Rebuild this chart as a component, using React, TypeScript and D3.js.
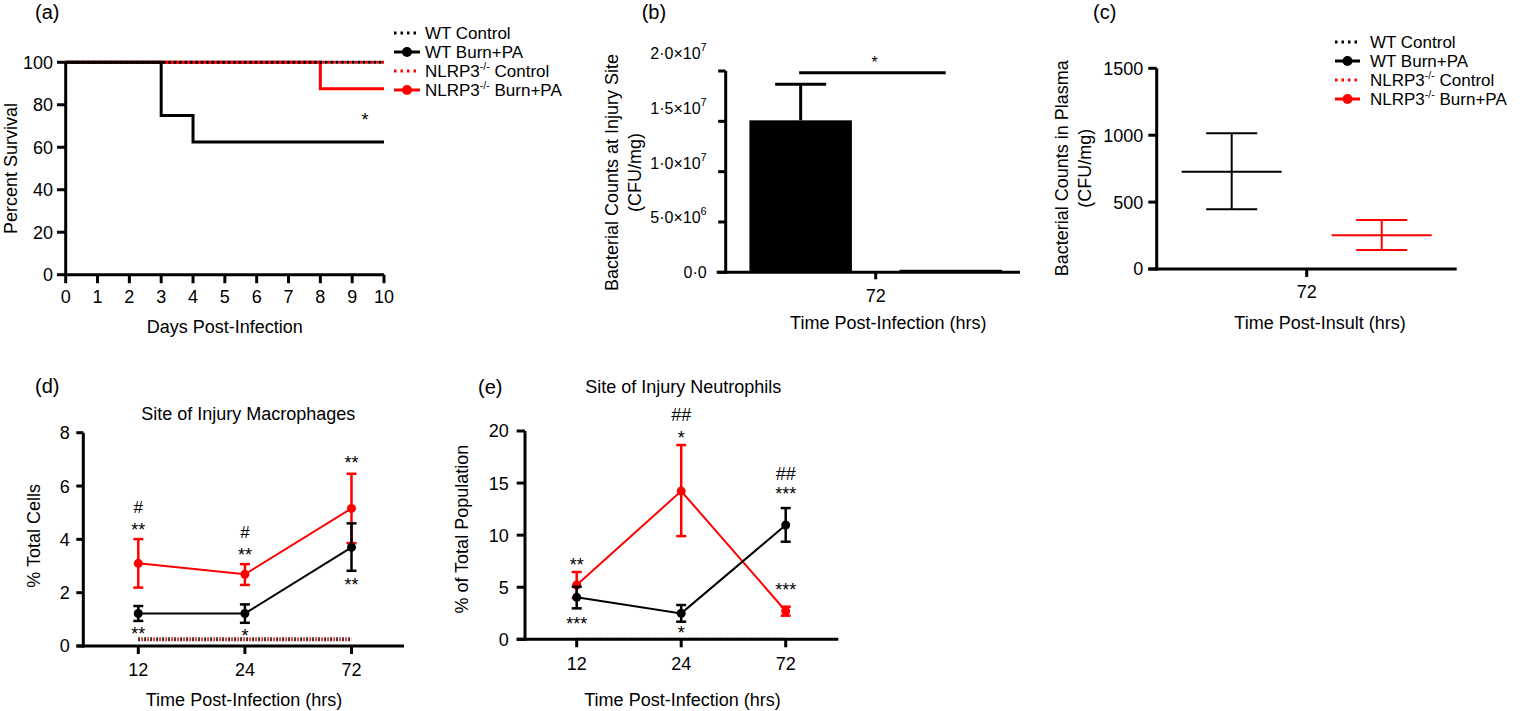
import React from "react";
import * as d3 from "d3";

const FONT = '"Liberation Sans", Arial, Helvetica, sans-serif';
const BLACK = "#000000";
const RED = "#ff0000";

// ---------------- (a) survival ----------------
const survivalDayTicks = [0, 1, 2, 3, 4, 5, 6, 7, 8, 9, 10];
const survivalTicks = [0, 20, 40, 60, 80, 100];
const survWTControl = [{ day: 0, pct: 100 }, { day: 10, pct: 100 }];
const survWTBurn = [{ day: 0, pct: 100 }, { day: 3, pct: 75 }, { day: 4, pct: 62.5 }, { day: 10, pct: 62.5 }];
const survKOControl = [{ day: 0, pct: 100 }, { day: 10, pct: 100 }];
const survKOBurn = [{ day: 0, pct: 100 }, { day: 8, pct: 87.5 }, { day: 10, pct: 87.5 }];
const survStarDay = 9.4;
const survStarPct = 62.5 + 12.3;

const legendLabels = ["WT Control", "WT Burn+PA", "NLRP3-/- Control", "NLRP3-/- Burn+PA"];

// ---------------- (b) injury-site bacterial counts ----------------
const injuryGroups = ["WT Burn+PA", "NLRP3-/- Burn+PA"];
const injuryMeans = [1.51e7, 2.5e5];
const injuryUpper = [1.868e7, 2.5e5];
const injuryTicks = [0, 5e6, 1e7, 1.5e7, 2e7];
const injuryTimeLabel = "72";

// ---------------- (c) plasma bacterial counts ----------------
const plasmaGroups = ["WT Burn+PA", "NLRP3-/- Burn+PA"];
const plasmaMeans = [727, 252];
const plasmaUpper = [1014, 366];
const plasmaLower = [446, 142];
const plasmaTicks = [0, 500, 1000, 1500];
const plasmaTimeLabel = "72";

// ---------------- (d) macrophages ----------------
const timepoints = ["12", "24", "72"];
const macTicks = [0, 2, 4, 6, 8];
const macWT = [1.22, 1.22, 3.7];
const macWTHi = [1.5, 1.56, 4.6];
const macWTLo = [0.94, 0.87, 2.82];
const macKO = [3.1, 2.69, 5.16];
const macKOHi = [4.01, 3.07, 6.46];
const macKOLo = [2.19, 2.29, 3.86];
const macControl = [0.25, 0.25, 0.25];
const macAnnotTime = ["12", "12", "12", "24", "24", "24", "72", "72"];
const macAnnotY = [5.22, 4.51, 0.63, 4.26, 3.56, 0.54, 7.04, 2.44];
const macAnnotText = ["#", "**", "**", "#", "**", "*", "**", "**"];

// ---------------- (e) neutrophils ----------------
const neuTicks = [0, 5, 10, 15, 20];
const neuWT = [4.03, 2.49, 10.97];
const neuWTHi = [5.05, 3.29, 12.6];
const neuWTLo = [2.97, 1.69, 9.37];
const neuKO = [5.21, 14.23, 2.72];
const neuKOHi = [6.46, 18.65, 3.13];
const neuKOLo = [3.96, 9.91, 2.27];
const neuControl = [0.08, 0.08, 0.08];
const neuAnnotTime = ["12", "12", "24", "24", "24", "72", "72", "72"];
const neuAnnotY = [7.54, 1.92, 21.53, 19.7, 1.06, 15.93, 14.33, 5.14];
const neuAnnotText = ["**", "***", "##", "*", "*", "##", "***", "***"];

function supLabel(label: string, fs: number) {
  const idx = label.indexOf("-/-");
  if (idx < 0) return label;
  return [
    <tspan key="a">{label.slice(0, idx)}</tspan>,
    <tspan key="b" fontSize={fs * 0.62} dy={-fs * 0.4}>-/-</tspan>,
    <tspan key="c" dy={fs * 0.4}>{label.slice(idx + 3)}</tspan>,
  ];
}

function YAxis(props: {
  scale: d3.ScaleLinear<number, number>;
  x: number;
  ticks: number[];
  gap: number;
  fs?: number;
  tickLen?: number;
  fmt?: (v: number) => any;
  shift?: (i: number) => number;
}) {
  const { scale, x, ticks, gap } = props;
  const fs = props.fs ?? 18;
  const tl = props.tickLen ?? 8;
  const fmt = props.fmt ?? ((v: number) => String(v));
  const shift = props.shift ?? (() => 0);
  const [r0, r1] = scale.range();
  return (
    <g>
      <line x1={x} x2={x} y1={Math.min(r0, r1)} y2={Math.max(r0, r1) + 1.5} stroke={BLACK} strokeWidth={3} />
      {ticks.map((t, i) => (
        <g key={i}>
          <line x1={x - tl} x2={x} y1={scale(t)} y2={scale(t)} stroke={BLACK} strokeWidth={3} />
          <text x={x - tl - gap} y={scale(t) + fs * 0.36 + shift(i)} textAnchor="end" fontSize={fs}>
            {fmt(t)}
          </text>
        </g>
      ))}
    </g>
  );
}

function XAxis(props: {
  y: number;
  x0: number;
  x1: number;
  ticks: { pos: number; label: string }[];
  labelY: number;
  tickLen?: number;
  fs?: number;
}) {
  const tl = props.tickLen ?? 8;
  const fs = props.fs ?? 18;
  return (
    <g>
      <line x1={props.x0} x2={props.x1} y1={props.y} y2={props.y} stroke={BLACK} strokeWidth={3} />
      {props.ticks.map((t, i) => (
        <g key={i}>
          <line x1={t.pos} x2={t.pos} y1={props.y} y2={props.y + tl} stroke={BLACK} strokeWidth={3} />
          <text x={t.pos} y={props.labelY} textAnchor="middle" fontSize={fs}>
            {t.label}
          </text>
        </g>
      ))}
    </g>
  );
}

function annotBaseline(y: number, text: string, fs: number) {
  return text.includes("#") ? y + fs * 0.35 : y + fs * 0.575;
}

function Legend(props: { x0: number; x1: number; textX: number; rows: number[] }) {
  const { x0, x1, textX, rows } = props;
  const colors = [BLACK, BLACK, RED, RED];
  const dotted = [true, false, true, false];
  const fs = 17;
  return (
    <g>
      {legendLabels.map((lab, i) => (
        <g key={i}>
          <line
            x1={x0}
            x2={x1}
            y1={rows[i]}
            y2={rows[i]}
            stroke={colors[i]}
            strokeWidth={3}
            strokeDasharray={dotted[i] ? "2.5,4" : undefined}
          />
          {!dotted[i] && <circle cx={(x0 + x1) / 2} cy={rows[i]} r={5} fill={colors[i]} />}
          <text x={textX} y={rows[i] + 6.2} fontSize={fs}>
            {supLabel(lab, fs)}
          </text>
        </g>
      ))}
    </g>
  );
}

function sciFormat(v: number) {
  if (v === 0) return "0\u00b70";
  const e = Math.floor(Math.log10(v) + 1e-9);
  const m = (v / Math.pow(10, e)).toFixed(1).replace(".", "\u00b7");
  return [
    <tspan key="m">{m + "\u00d710"}</tspan>,
    <tspan key="e" fontSize={11} dy={-8}>{String(e)}</tspan>,
  ];
}

export default function App() {
  // ===== (a) =====
  const xA = d3.scaleLinear().domain([0, 10]).range([65.7, 384]);
  const yA = d3.scaleLinear().domain([0, 100]).range([274.7, 62.3]);
  const stepA = d3
    .line<{ day: number; pct: number }>()
    .x((p) => xA(p.day))
    .y((p) => yA(p.pct))
    .curve(d3.curveStepAfter);

  // ===== (b) =====
  const yB = d3.scaleLinear().domain([0, 2e7]).range([272.3, 71]);
  const xB = d3
    .scaleBand<string>()
    .domain(injuryGroups)
    .range([725.7, 1025.7])
    .paddingInner(0.317)
    .paddingOuter(0.158);
  const bw = xB.bandwidth();
  const c1 = (xB(injuryGroups[0]) ?? 0) + bw / 2;
  const c2 = (xB(injuryGroups[1]) ?? 0) + bw / 2;

  // ===== (c) =====
  const yC = d3.scaleLinear().domain([0, 1500]).range([269, 68.3]);
  const xC = d3.scalePoint<string>().domain(plasmaGroups).range([1156.7, 1456.7]).padding(0.5);
  const cColors = [BLACK, RED];

  // ===== (d) =====
  const xD = d3.scalePoint<string>().domain(timepoints).range([138.3, 351.5]);
  const yD = d3.scaleLinear().domain([0, 8]).range([646, 432.7]);
  const lineD = d3
    .line<number>()
    .x((_, i) => xD(timepoints[i]) ?? 0)
    .y((v) => yD(v));

  // ===== (e) =====
  const xE = d3.scalePoint<string>().domain(timepoints).range([576.7, 785.7]);
  const yE = d3.scaleLinear().domain([0, 20]).range([639.3, 431]);
  const lineE = d3
    .line<number>()
    .x((_, i) => xE(timepoints[i]) ?? 0)
    .y((v) => yE(v));

  const seriesBlock = (
    xs: d3.ScalePoint<string>,
    ys: d3.ScaleLinear<number, number>,
    line: d3.Line<number>,
    mean: number[],
    hi: number[],
    lo: number[],
    color: string
  ) => (
    <g>
      <path d={line(mean) ?? ""} fill="none" stroke={color} strokeWidth={2} />
      {mean.map((v, i) => {
        const cx = xs(timepoints[i]) ?? 0;
        return (
          <g key={i}>
            <line x1={cx} x2={cx} y1={ys(hi[i])} y2={ys(lo[i])} stroke={color} strokeWidth={2.5} />
            <line x1={cx - 5} x2={cx + 5} y1={ys(hi[i])} y2={ys(hi[i])} stroke={color} strokeWidth={2.5} />
            <line x1={cx - 5} x2={cx + 5} y1={ys(lo[i])} y2={ys(lo[i])} stroke={color} strokeWidth={2.5} />
            <circle cx={cx} cy={ys(v)} r={4.5} fill={color} />
          </g>
        );
      })}
    </g>
  );

  const controlBlock = (
    xs: d3.ScalePoint<string>,
    ys: d3.ScaleLinear<number, number>,
    vals: number[],
    width: number
  ) => {
    const p = d3
      .line<number>()
      .x((_, i) => xs(timepoints[i]) ?? 0)
      .y((v) => ys(v))(vals) ?? "";
    return (
      <g>
        <path d={p} fill="none" stroke={BLACK} strokeWidth={width} strokeDasharray="1.5,4.5" />
        <path d={p} fill="none" stroke={RED} strokeWidth={width} strokeDasharray="1.5,4.5" strokeDashoffset={3} />
      </g>
    );
  };

  return (
    <svg
      width={1524}
      height={711}
      style={{ position: "absolute", left: 0, top: 0, background: "#fff" }}
      fontFamily={FONT}
      fill={BLACK}
    >
      <rect x={0} y={0} width={1524} height={711} fill="#fff" />

      {/* ================= (a) ================= */}
      <text x={35} y={19} fontSize={20}>(a)</text>
      <path d={stepA(survKOControl) ?? ""} fill="none" stroke={RED} strokeWidth={3} strokeDasharray="2.7,2.7" strokeDashoffset={2.7} />
      <path d={stepA(survKOBurn) ?? ""} fill="none" stroke={RED} strokeWidth={3} />
      <path d={stepA(survWTBurn) ?? ""} fill="none" stroke={BLACK} strokeWidth={3} />
      <path d={stepA(survWTControl) ?? ""} fill="none" stroke={BLACK} strokeWidth={3} strokeDasharray="2.7,2.7" />
      <YAxis scale={yA} x={xA(0)} ticks={survivalTicks} gap={4} tickLen={8.7} />
      <XAxis
        y={yA(0)}
        x0={xA(0)}
        x1={xA(10)}
        ticks={survivalDayTicks.map((d) => ({ pos: xA(d), label: String(d) }))}
        labelY={303}
        tickLen={8.5}
      />
      <text x={xA(survStarDay)} y={yA(survStarPct) + 10.3} textAnchor="middle" fontSize={18}>*</text>
      <text transform={`translate(16.7,${(yA(0) + yA(100)) / 2}) rotate(-90)`} textAnchor="middle" fontSize={18}>
        Percent Survival
      </text>
      <text x={(xA(0) + xA(10)) / 2} y={333} textAnchor="middle" fontSize={18}>Days Post-Infection</text>
      <Legend x0={394} x1={420} textX={425} rows={[33, 52, 71, 90]} />

      {/* ================= (b) ================= */}
      <text x={641.7} y={19} fontSize={20}>(b)</text>
      {injuryGroups.map((g, i) => (
        <rect
          key={g}
          x={xB(g) ?? 0}
          y={yB(injuryMeans[i])}
          width={bw}
          height={yB(0) - yB(injuryMeans[i])}
          fill={BLACK}
        />
      ))}
      {injuryGroups.map((g, i) =>
        injuryUpper[i] > injuryMeans[i] ? (
          <g key={g}>
            <line x1={c1} x2={c1} y1={yB(injuryMeans[i])} y2={yB(injuryUpper[i])} stroke={BLACK} strokeWidth={3} />
            <line x1={c1 - 25.5} x2={c1 + 25.5} y1={yB(injuryUpper[i])} y2={yB(injuryUpper[i])} stroke={BLACK} strokeWidth={3} />
          </g>
        ) : null
      )}
      <YAxis
        scale={yB}
        x={725.7}
        ticks={injuryTicks}
        gap={11.5}
        fs={16}
        tickLen={7.5}
        fmt={sciFormat}
        shift={(i) => -4.4 * i}
      />
      <XAxis y={yB(0)} x0={716.7} x1={1020} ticks={[{ pos: (c1 + c2) / 2, label: injuryTimeLabel }]} labelY={302} tickLen={7} />
      <line x1={c1 - 1.5} x2={c2 - 5} y1={72.7} y2={72.7} stroke={BLACK} strokeWidth={3} />
      <text x={(c1 + c2) / 2 - 1} y={67.5} textAnchor="middle" fontSize={16}>*</text>
      <text transform={`translate(618,172.5) rotate(-90)`} textAnchor="middle" fontSize={18}>
        Bacterial Counts at Injury Site
      </text>
      <text transform={`translate(641,172.5) rotate(-90)`} textAnchor="middle" fontSize={18}>
        (CFU/mg)
      </text>
      <text x={888.3} y={329} textAnchor="middle" fontSize={18}>Time Post-Infection (hrs)</text>

      {/* ================= (c) ================= */}
      <text x={1093} y={19} fontSize={20}>(c)</text>
      {plasmaGroups.map((g, i) => {
        const cx = xC(g) ?? 0;
        return (
          <g key={g} stroke={cColors[i]} strokeWidth={2}>
            <line x1={cx - 50} x2={cx + 50} y1={yC(plasmaMeans[i])} y2={yC(plasmaMeans[i])} />
            <line x1={cx} x2={cx} y1={yC(plasmaUpper[i])} y2={yC(plasmaLower[i])} />
            <line x1={cx - 25.5} x2={cx + 25.5} y1={yC(plasmaUpper[i])} y2={yC(plasmaUpper[i])} />
            <line x1={cx - 25.5} x2={cx + 25.5} y1={yC(plasmaLower[i])} y2={yC(plasmaLower[i])} />
          </g>
        );
      })}
      <YAxis scale={yC} x={1156.7} ticks={plasmaTicks} gap={5} tickLen={8.4} />
      <XAxis y={yC(0)} x0={1148.3} x1={1456.7} ticks={[{ pos: 1306.7, label: plasmaTimeLabel }]} labelY={298} tickLen={8} />
      <text transform={`translate(1068,168.3) rotate(-90)`} textAnchor="middle" fontSize={18}>
        Bacterial Counts in Plasma
      </text>
      <text transform={`translate(1091,168.3) rotate(-90)`} textAnchor="middle" fontSize={18}>
        (CFU/mg)
      </text>
      <text x={1320} y={329} textAnchor="middle" fontSize={18}>Time Post-Insult (hrs)</text>
      <Legend x0={1335} x1={1360} textX={1370} rows={[42, 61, 80, 99]} />

      {/* ================= (d) ================= */}
      <text x={35} y={392.5} fontSize={20}>(d)</text>
      <text x={248.3} y={419.5} textAnchor="middle" fontSize={18}>Site of Injury Macrophages</text>
      {controlBlock(xD, yD, macControl, 4)}
      {seriesBlock(xD, yD, lineD, macKO, macKOHi, macKOLo, RED)}
      {seriesBlock(xD, yD, lineD, macWT, macWTHi, macWTLo, BLACK)}
      {macAnnotText.map((t, i) => {
        const fs = t.includes("#") ? 17 : 18;
        return (
          <text key={i} x={xD(macAnnotTime[i]) ?? 0} y={annotBaseline(yD(macAnnotY[i]), t, fs)} textAnchor="middle" fontSize={fs}>
            {t}
          </text>
        );
      })}
      <YAxis scale={yD} x={83.3} ticks={macTicks} gap={6.5} tickLen={7} />
      <XAxis
        y={yD(0)}
        x0={76.7}
        x1={404}
        ticks={timepoints.map((t) => ({ pos: xD(t) ?? 0, label: t }))}
        labelY={676}
        tickLen={8}
      />
      <text transform={`translate(40,535.8) rotate(-90)`} textAnchor="middle" fontSize={18}>% Total Cells</text>
      <text x={244} y={706} textAnchor="middle" fontSize={18}>Time Post-Infection (hrs)</text>

      {/* ================= (e) ================= */}
      <text x={478} y={394} fontSize={20}>(e)</text>
      <text x={683.3} y={393} textAnchor="middle" fontSize={18}>Site of Injury Neutrophils</text>
      {controlBlock(xE, yE, neuControl, 1.5)}
      {seriesBlock(xE, yE, lineE, neuKO, neuKOHi, neuKOLo, RED)}
      {seriesBlock(xE, yE, lineE, neuWT, neuWTHi, neuWTLo, BLACK)}
      {neuAnnotText.map((t, i) => {
        const fs = t.includes("#") ? 18 : 18;
        return (
          <text key={i} x={xE(neuAnnotTime[i]) ?? 0} y={annotBaseline(yE(neuAnnotY[i]), t, fs)} textAnchor="middle" fontSize={fs}>
            {t}
          </text>
        );
      })}
      <YAxis scale={yE} x={525} ticks={neuTicks} gap={8} tickLen={8.3} />
      <XAxis
        y={yE(0)}
        x0={516.7}
        x1={838.3}
        ticks={timepoints.map((t) => ({ pos: xE(t) ?? 0, label: t }))}
        labelY={670}
        tickLen={8}
      />
      <text transform={`translate(468,529.2) rotate(-90)`} textAnchor="middle" fontSize={18}>% of Total Population</text>
      <text x={682.5} y={706} textAnchor="middle" fontSize={18}>Time Post-Infection (hrs)</text>
    </svg>
  );
}
